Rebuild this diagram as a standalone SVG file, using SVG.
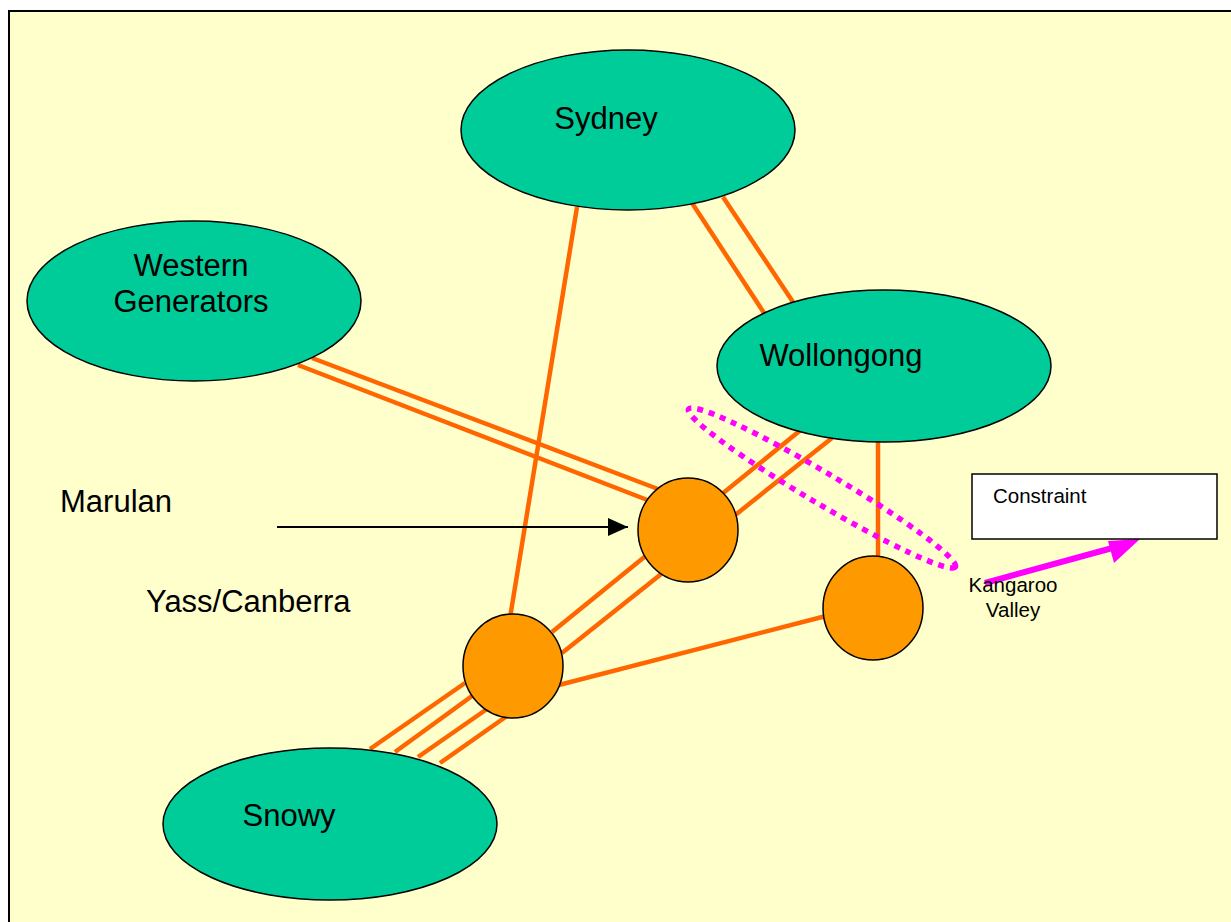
<svg xmlns="http://www.w3.org/2000/svg" width="1231" height="922" viewBox="0 0 1231 922">
<defs>
<style>
.bg{fill:#FFFFCC;stroke:#000;stroke-width:2}
.big{fill:#00CC99;stroke:#000;stroke-width:1.5}
.sub{fill:#FF9900;stroke:#000;stroke-width:1.5}
.ln{stroke:#FF6600;stroke-width:4.5;fill:none}
.t30{font-family:"Liberation Sans",Arial,sans-serif;font-size:31px;fill:#000}
.t20{font-family:"Liberation Sans",Arial,sans-serif;font-size:20.5px;fill:#000}
</style>
<marker id="ah" markerWidth="20" markerHeight="18" refX="20" refY="9" orient="auto" markerUnits="userSpaceOnUse" viewBox="0 0 20 18">
<path d="M0,0 L20,9 L0,18 Z" fill="#000"/>
</marker>
</defs>
<rect x="0" y="0" width="1231" height="922" fill="#fff"/>
<rect class="bg" x="9" y="11" width="1240" height="930"/>
<g id="connectors">
<line class="ln" x1="577" y1="207" x2="510" y2="618"/>
<line class="ln" x1="692" y1="203" x2="766" y2="316"/>
<line class="ln" x1="723" y1="197" x2="795" y2="305"/>
<line class="ln" x1="312" y1="358" x2="658" y2="489"/>
<line class="ln" x1="298" y1="365" x2="650" y2="501"/>
<line class="ln" x1="802" y1="429" x2="552" y2="632"/>
<line class="ln" x1="832" y1="438" x2="562" y2="653"/>
<line class="ln" x1="465" y1="683" x2="370" y2="749"/>
<line class="ln" x1="472" y1="696" x2="395" y2="752"/>
<line class="ln" x1="487" y1="709" x2="418" y2="757"/>
<line class="ln" x1="507" y1="716" x2="440" y2="763"/>
<line class="ln" x1="555" y1="686" x2="826" y2="616"/>
<line class="ln" x1="878" y1="440" x2="878" y2="558"/>
</g>
<g id="sydney"><ellipse class="big" cx="628" cy="130" rx="167" ry="80"/><text class="t30" x="606" y="129" text-anchor="middle">Sydney</text></g>
<g id="western"><ellipse class="big" cx="194" cy="301" rx="167" ry="80"/><text class="t30" x="191" y="276" text-anchor="middle">Western</text><text class="t30" x="191" y="312" text-anchor="middle">Generators</text></g>
<g id="wollongong"><ellipse class="big" cx="884" cy="366" rx="167" ry="76"/><text class="t30" x="841" y="366" text-anchor="middle">Wollongong</text></g>
<g id="snowy"><ellipse class="big" cx="330" cy="824" rx="167" ry="76"/><text class="t30" x="289" y="826" text-anchor="middle">Snowy</text></g>
<g id="marulan-node"><ellipse class="sub" cx="688" cy="530" rx="50" ry="52"/></g>
<g id="yass-node"><ellipse class="sub" cx="513" cy="666" rx="50" ry="52"/></g>
<g id="kangaroo-node"><ellipse class="sub" cx="873" cy="608" rx="50" ry="52"/></g>
<g id="constraint-ellipse"><ellipse cx="822" cy="488" rx="155" ry="15.5" transform="rotate(30.6 822 488)" fill="none" stroke="#FF00FF" stroke-width="5.5" stroke-dasharray="6 6"/></g>
<g id="marulan-label"><text class="t30" x="60" y="512">Marulan</text></g>
<g id="yass-label"><text class="t30" x="146" y="612">Yass/Canberra</text></g>
<g id="arrows">
<line x1="277" y1="527" x2="628" y2="527" stroke="#000" stroke-width="2" marker-end="url(#ah)"/>
<line x1="985" y1="583" x2="1116" y2="547" stroke="#FF00FF" stroke-width="6"/>
<polygon points="1140,539 1108,541 1114,563" fill="#FF00FF"/>
</g>
<g id="kangaroo-label"><text class="t20" x="1013" y="592" text-anchor="middle">Kangaroo</text><text class="t20" x="1013" y="617" text-anchor="middle">Valley</text></g>
<g id="constraint"><rect x="972" y="474" width="245" height="65" fill="#fff" stroke="#000" stroke-width="1.5"/><text class="t20" x="993" y="503">Constraint</text></g>
</svg>
